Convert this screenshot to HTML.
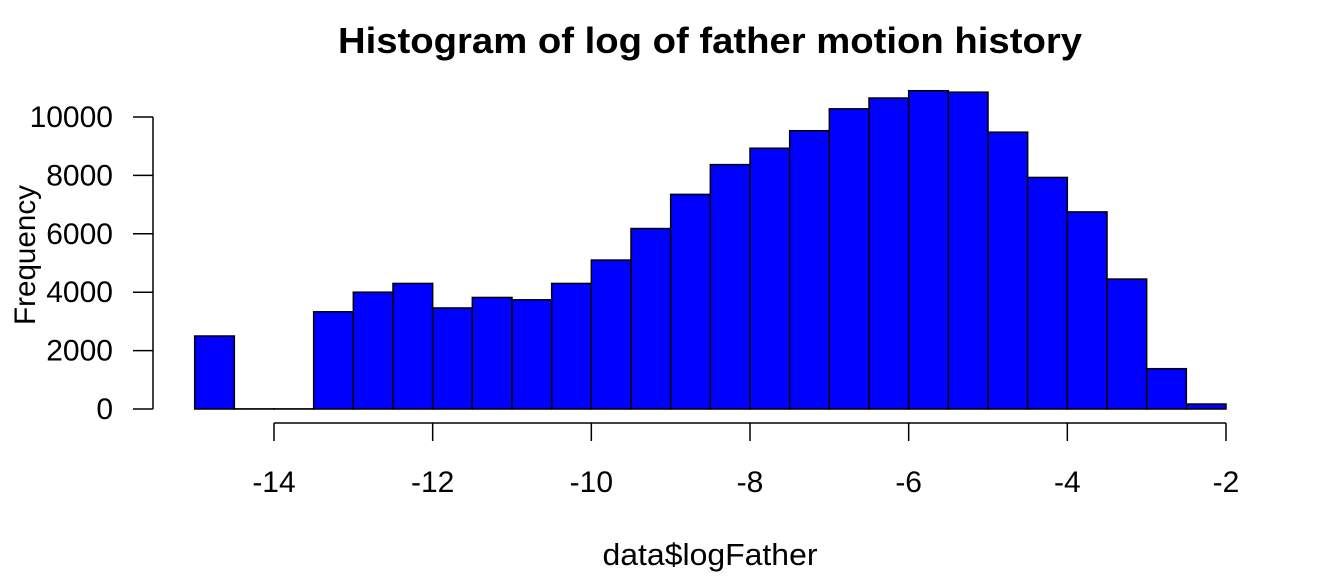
<!DOCTYPE html>
<html><head><meta charset="utf-8"><style>
body{margin:0;background:#fff}
svg text{font-family:"Liberation Sans",Arial,sans-serif;fill:#000}
</style></head><body>
<svg id="chart" width="1344" height="576" viewBox="0 0 1344 576">
<text x="710" y="53" font-size="36" font-weight="bold" text-anchor="middle" textLength="744" lengthAdjust="spacingAndGlyphs">Histogram of log of father motion history</text>
<text x="710" y="565" font-size="31" text-anchor="middle" textLength="215" lengthAdjust="spacingAndGlyphs">data$logFather</text>
<text transform="translate(35,255) rotate(-90)" font-size="30" text-anchor="middle" textLength="140" lengthAdjust="spacingAndGlyphs">Frequency</text>
<g id="bars"></g>
<g id="axes"></g>
</svg>
<script>
const binStarts=[-15,-14.5,-14,-13.5,-13,-12.5,-12,-11.5,-11,-10.5,-10,-9.5,-9,-8.5,-8,-7.5,-7,-6.5,-6,-5.5,-5,-4.5,-4,-3.5,-3,-2.5];
const counts=[2500,5,5,3330,4000,4300,3460,3820,3740,4300,5100,6180,7350,8370,8930,9530,10280,10650,10900,10850,9480,7930,6750,4450,1380,170];
const xTicks=[-14,-12,-10,-8,-6,-4,-2];
const yTicks=[0,2000,4000,6000,8000,10000];
const binWidth=0.5;
const NS="http://www.w3.org/2000/svg";
const xs=v=>274+(v+14)*(952/12);
const ys=v=>409-v*0.0292;
function mk(tag,attrs,parent){const e=document.createElementNS(NS,tag);for(const k in attrs)e.setAttribute(k,attrs[k]);parent.appendChild(e);return e;}
const bars=document.getElementById('bars'),axes=document.getElementById('axes');
binStarts.forEach((b,i)=>{
 const x0=xs(b),x1=xs(b+binWidth),y=ys(counts[i]);
 const r=mk('rect',{x:x0,y:y,width:x1-x0,height:ys(0)-y,fill:'#0000ff',stroke:'#000','stroke-width':1.5},bars);
 
 
});
let l=mk('line',{x1:xs(xTicks[0]),x2:xs(xTicks[xTicks.length-1]),y1:423,y2:423,stroke:'#000','stroke-width':1.5},axes);


xTicks.forEach(t=>{
 const tk=mk('line',{x1:xs(t),x2:xs(t),y1:423,y2:441,stroke:'#000','stroke-width':1.5},axes);
 
 
 const tx=mk('text',{x:xs(t),y:492,'font-size':30,'text-anchor':'middle'},axes);
 tx.textContent=String(t);
 
 
});
l=mk('line',{x1:153,x2:153,y1:ys(yTicks[0]),y2:ys(yTicks[yTicks.length-1]),stroke:'#000','stroke-width':1.5},axes);


yTicks.forEach(t=>{
 const tk=mk('line',{x1:133,x2:153,y1:ys(t),y2:ys(t),stroke:'#000','stroke-width':1.5},axes);
 
 
 const tx=mk('text',{x:113,y:ys(t)+10,'font-size':30,'text-anchor':'end'},axes);
 tx.textContent=String(t);
 
 
});
</script>
</body></html>
